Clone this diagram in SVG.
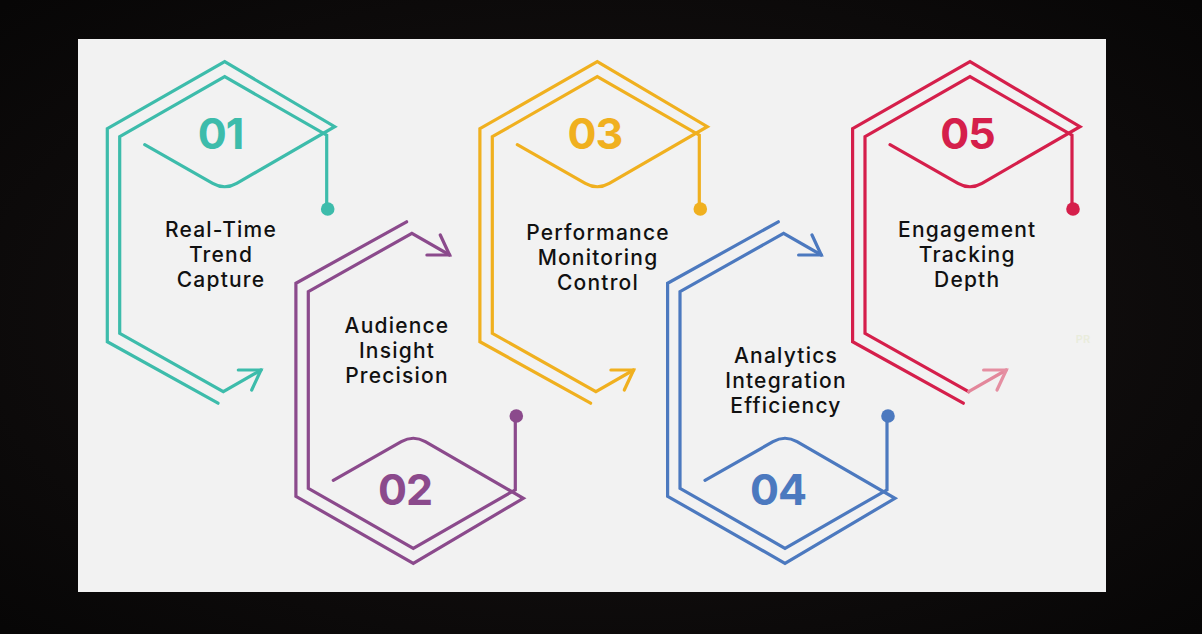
<svg xmlns="http://www.w3.org/2000/svg" width="1202" height="634" viewBox="0 0 1202 634">
  <defs>
    <radialGradient id="bg" cx="50%" cy="50%" r="70%">
      <stop offset="0" stop-color="#1a1515"/>
      <stop offset="1" stop-color="#070606"/>
    </radialGradient>
    <style>
      .ln { fill: none; stroke-width: 3.2; stroke-linecap: round; stroke-linejoin: miter; }
      .num { font-family: Inter, "Liberation Sans", sans-serif; font-weight: 700; font-size: 43px; text-anchor: middle; letter-spacing: -1px; }
      .lbl { font-family: Inter, "Liberation Sans", sans-serif; font-weight: 500; font-size: 21px; fill: #111111; text-anchor: middle; letter-spacing: 1.2px; }
      .teal { stroke: #3dbcab; }
      .purple { stroke: #8b4a8c; }
      .yellow { stroke: #f0b01f; }
      .blue { stroke: #4c79bf; }
      .red { stroke: #d51f4b; }
    </style>
  </defs>
  <rect x="0" y="0" width="1202" height="634" fill="url(#bg)"/>
  <rect x="78" y="39" width="1028" height="553" fill="#f2f2f2"/>

  <g id="connectors"></g>

  <g id="step-01">
    <g transform="translate(224.7,61.7)" class="teal">
      <path class="ln" d="M -80,83 L -12,121.6 Q 0,128.5 12,121.6 L 110,65 L 0,0 L -117.4,67 L -117.4,280 L -6.7,341.5"/>
      <path class="ln" d="M 36.3,308.3 L -1.4,330 L -105,271.6 L -105,75 L 0,15 L 102,73.5 L 102,147"/>
      <path class="ln" d="M 13.6,308.3 L 36.3,308.3 L 27,328.3"/>
      <circle cx="103" cy="147.3" r="6.8" fill="#3dbcab" stroke="none"/>
    </g>
    <text class="num" x="220.5" y="149" fill="#3dbcab">01</text>
    <text class="lbl" x="221" y="236.5">Real-Time</text>
    <text class="lbl" x="221" y="261.5">Trend</text>
    <text class="lbl" x="221" y="286.5">Capture</text>
  </g>

  <g id="step-02">
    <g transform="translate(413.3,563.3) scale(1,-1)" class="purple">
      <path class="ln" d="M -80,83 L -12,121.6 Q 0,128.5 12,121.6 L 110,65 L 0,0 L -117.4,67 L -117.4,280 L -6.7,341.5"/>
      <path class="ln" d="M 36.3,308.3 L -1.4,330 L -105,271.6 L -105,75 L 0,15 L 102,73.5 L 102,147"/>
      <path class="ln" d="M 13.6,308.3 L 36.3,308.3 L 27,328.3"/>
      <circle cx="103" cy="147.3" r="6.8" fill="#8b4a8c" stroke="none"/>
    </g>
    <text class="num" x="405" y="505" fill="#8b4a8c">02</text>
    <text class="lbl" x="397" y="333">Audience</text>
    <text class="lbl" x="397" y="358">Insight</text>
    <text class="lbl" x="397" y="383">Precision</text>
  </g>

  <g id="step-03">
    <g transform="translate(597.3,61.7)" class="yellow">
      <path class="ln" d="M -80,83 L -12,121.6 Q 0,128.5 12,121.6 L 110,65 L 0,0 L -117.4,67 L -117.4,280 L -6.7,341.5"/>
      <path class="ln" d="M 36.3,308.3 L -1.4,330 L -105,271.6 L -105,75 L 0,15 L 102,73.5 L 102,147"/>
      <path class="ln" d="M 13.6,308.3 L 36.3,308.3 L 27,328.3"/>
      <circle cx="103" cy="147.3" r="6.8" fill="#f0b01f" stroke="none"/>
    </g>
    <text class="num" x="594.8" y="149" fill="#f0b01f">03</text>
    <text class="lbl" x="598" y="240">Performance</text>
    <text class="lbl" x="598" y="265">Monitoring</text>
    <text class="lbl" x="598" y="290">Control</text>
  </g>

  <g id="step-04">
    <g transform="translate(785,563.3) scale(1,-1)" class="blue">
      <path class="ln" d="M -80,83 L -12,121.6 Q 0,128.5 12,121.6 L 110,65 L 0,0 L -117.4,67 L -117.4,280 L -6.7,341.5"/>
      <path class="ln" d="M 36.3,308.3 L -1.4,330 L -105,271.6 L -105,75 L 0,15 L 102,73.5 L 102,147"/>
      <path class="ln" d="M 13.6,308.3 L 36.3,308.3 L 27,328.3"/>
      <circle cx="103" cy="147.3" r="6.8" fill="#4c79bf" stroke="none"/>
    </g>
    <text class="num" x="778" y="505" fill="#4c79bf">04</text>
    <text class="lbl" x="786" y="363">Analytics</text>
    <text class="lbl" x="786" y="388.3">Integration</text>
    <text class="lbl" x="786" y="413.3">Efficiency</text>
  </g>

  <g id="step-05">
    <g transform="translate(970,61.7)" class="red">
      <path class="ln" d="M -80,83 L -12,121.6 Q 0,128.5 12,121.6 L 110,65 L 0,0 L -117.4,67 L -117.4,280 L -6.7,341.5"/>
      <path class="ln" d="M -1.4,330 L -105,271.6 L -105,75 L 0,15 L 102,73.5 L 102,147"/>
      <path class="ln" d="M 36.3,308.3 L -1.4,330" style="stroke:#e3879b"/>
      <path class="ln" d="M 13.6,308.3 L 36.3,308.3 L 27,328.3" style="stroke:#e58fa2"/>
      <circle cx="103" cy="147.3" r="6.8" fill="#d51f4b" stroke="none"/>
    </g>
    <text class="num" x="967.5" y="149" fill="#d51f4b">05</text>
    <text class="lbl" x="967.2" y="237.3">Engagement</text>
    <text class="lbl" x="967.2" y="262.3">Tracking</text>
    <text class="lbl" x="967.2" y="287.3">Depth</text>
  </g>

  <text x="1083" y="343" font-family="Inter, 'Liberation Sans', sans-serif" font-size="11" font-weight="600" fill="#e9ecdc" text-anchor="middle">PR</text>
</svg>
